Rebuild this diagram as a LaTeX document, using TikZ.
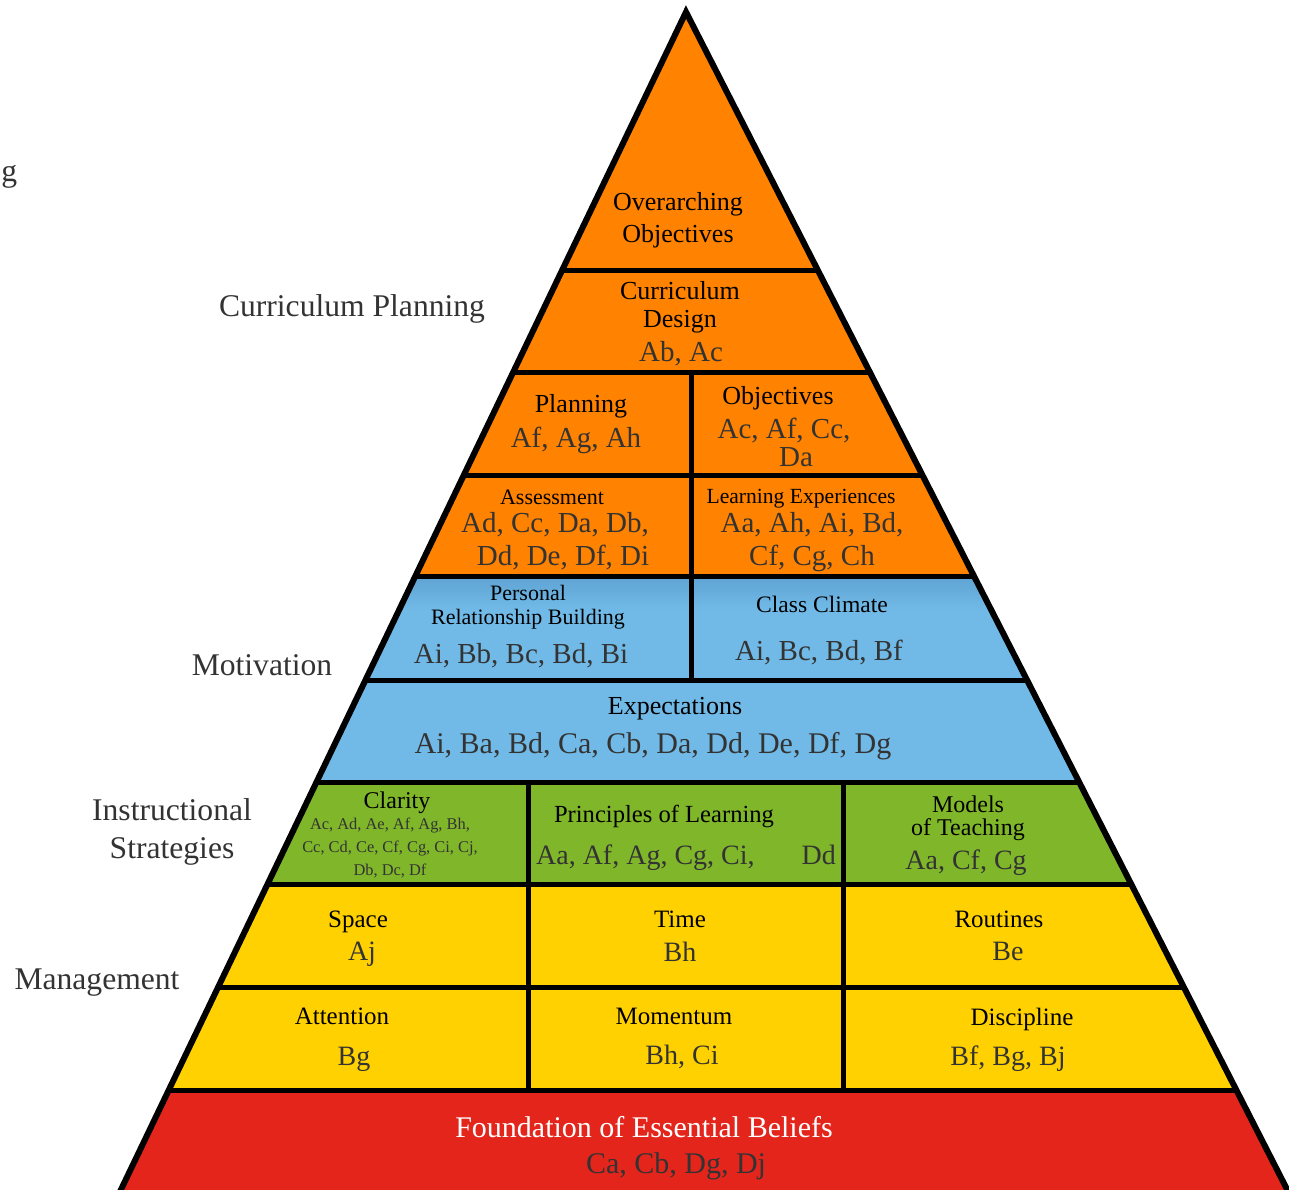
\documentclass[tikz,border=0pt]{standalone}
\usepackage{fontspec}
\setmainfont{Liberation Serif}
\definecolor{pyrorange}{HTML}{FF8200}
\definecolor{pyrblue}{HTML}{71BAE7}
\definecolor{pyrshade}{HTML}{5FA3D3}
\definecolor{pyrgreen}{HTML}{7FB62A}
\definecolor{pyryellow}{HTML}{FFD100}
\definecolor{pyrred}{HTML}{E4251C}
\begin{document}
\begin{tikzpicture}[x=0.5pt,y=-0.5pt,
    band/.style={line width=2.5pt},
    title/.style={inner sep=0pt,anchor=north,align=center,font=\fontsize{13}{16}\selectfont},
    codes/.style={inner sep=0pt,anchor=north,align=center,text=black!80,font=\fontsize{14.5}{16.5}\selectfont},
    side/.style={inner sep=0pt,anchor=north,align=center,text=black!80,font=\fontsize{15.8}{19}\selectfont}]
    \useasboundingbox (0,0) rectangle (1289,1189);
    \clip (0,0) rectangle (1289,1189);
    \begin{scope}
        \clip (686,12) -- (92,1250) -- (1318,1250) -- cycle;
        \fill[pyrorange] (0,0) rectangle (1289,576);
        \fill[pyrblue] (0,576) rectangle (1289,782);
        \shade[top color=pyrshade,bottom color=pyrblue] (0,576) rectangle (1289,610);
        \fill[pyrgreen] (0,782) rectangle (1289,884);
        \fill[pyryellow] (0,884) rectangle (1289,1090);
        \fill[pyrred] (0,1090) rectangle (1289,1250);
        \foreach \y in {270,372,475,576,680,782,884,987,1090}
            \draw[band] (0,\y) -- (1289,\y);
        \draw[band] (691,372) -- (691,680);
        \draw[band] (528,782) -- (528,1090);
        \draw[band] (843,782) -- (843,1090);
    \end{scope}
    \draw[line width=3pt,line join=miter] (686,12) -- (92,1250) -- (1318,1250) -- cycle;

    \node[title] (overarching) at (678,192) {Overarching\\Objectives};
    \node[title,font=\fontsize{13}{14}\selectfont] (currdesign) at (680,281) {Curriculum\\Design};
    \node[codes] (currcodes) at (681,341) {Ab, Ac};
    \node[title] (planning) at (581,394) {Planning};
    \node[codes] (plancodes) at (576,427) {Af, Ag, Ah};
    \node[title] (objectives) at (778,386) {Objectives};
    \node[codes,font=\fontsize{14.5}{14}\selectfont] (objcodes) at (784,418) {Ac, Af, Cc,\\\hspace*{12pt}Da};
    \node[title,font=\fontsize{11}{12}\selectfont] (assessment) at (552,490) {Assessment};
    \node[codes] (asscodes) at (555,512) {Ad, Cc, Da, Db,\\\hspace*{8pt}Dd, De, Df, Di};
    \node[title,font=\fontsize{10.8}{12}\selectfont] (learning) at (801,489) {Learning Experiences};
    \node[codes] (learncodes) at (812,512) {Aa, Ah, Ai, Bd,\\Cf, Cg, Ch};
    \node[title,font=\fontsize{11}{12}\selectfont] (personal) at (528,585) {Personal\\Relationship Building};
    \node[codes] (perscodes) at (521,643) {Ai, Bb, Bc, Bd, Bi};
    \node[title,font=\fontsize{11.8}{12}\selectfont] (climate) at (822,596) {Class Climate};
    \node[codes] (climcodes) at (819,640) {Ai, Bc, Bd, Bf};
    \node[title] (expectations) at (675,697) {Expectations};
    \node[codes,font=\fontsize{15}{16}\selectfont] (expcodes) at (653,732) {Ai, Ba, Bd, Ca, Cb, Da, Dd, De, Df, Dg};
    \node[title,font=\fontsize{12}{12}\selectfont] (clarity) at (397,791) {Clarity};
    \node[codes,font=\fontsize{8.2}{11.5}\selectfont] (clarcodes) at (390,818) {Ac, Ad, Ae, Af, Ag, Bh,\\Cc, Cd, Ce, Cf, Cg, Ci, Cj,\\Db, Dc, Df};
    \node[title,font=\fontsize{12.3}{12}\selectfont] (principles) at (664,805) {Principles of Learning};
    \node[codes,font=\fontsize{14}{16}\selectfont] (princodes) at (686,844) {Aa, Af, Ag, Cg, Ci,\hspace{20pt} Dd};
    \node[title,font=\fontsize{12}{11.5}\selectfont] (models) at (968,795) {Models\\of Teaching};
    \node[codes,font=\fontsize{14}{16}\selectfont] (modcodes) at (966,849) {Aa, Cf, Cg};
    \node[title,font=\fontsize{12.5}{14}\selectfont] (space) at (358,911) {Space};
    \node[codes,font=\fontsize{14}{16}\selectfont] (spacecodes) at (362,942) {Aj};
    \node[title,font=\fontsize{12.5}{14}\selectfont] (time) at (680,911) {Time};
    \node[codes,font=\fontsize{14}{16}\selectfont] (timecodes) at (680,942) {Bh};
    \node[title,font=\fontsize{12.5}{14}\selectfont] (routines) at (999,911) {Routines};
    \node[codes,font=\fontsize{14}{16}\selectfont] (routcodes) at (1008,942) {Be};
    \node[title,font=\fontsize{12.5}{14}\selectfont] (attention) at (342,1008) {Attention};
    \node[codes,font=\fontsize{14}{16}\selectfont] (attcodes) at (354,1047) {Bg};
    \node[title,font=\fontsize{12.5}{14}\selectfont] (momentum) at (674,1008) {Momentum};
    \node[codes,font=\fontsize{14}{16}\selectfont] (momcodes) at (682,1045) {Bh, Ci};
    \node[title,font=\fontsize{12.5}{14}\selectfont] (discipline) at (1022,1008) {Discipline};
    \node[codes,font=\fontsize{14}{16}\selectfont] (disccodes) at (1008,1045) {Bf, Bg, Bj};
    \node[title,text=white,font=\fontsize{15}{16}\selectfont] (foundation) at (644,1116) {Foundation of Essential Beliefs};
    \node[codes,font=\fontsize{15}{16}\selectfont] (foundcodes) at (676,1152) {Ca, Cb, Dg, Dj};

    \node[side] (currplanning) at (352,294) {Curriculum Planning};
    \node[side] (motivation) at (262,654) {Motivation};
    \node[side] (instructional) at (172,798) {Instructional\\Strategies};
    \node[side] (management) at (97,968) {Management};
    \node[side,anchor=base west] (cutoff) at (1,181) {g};
\end{tikzpicture}
\end{document}
